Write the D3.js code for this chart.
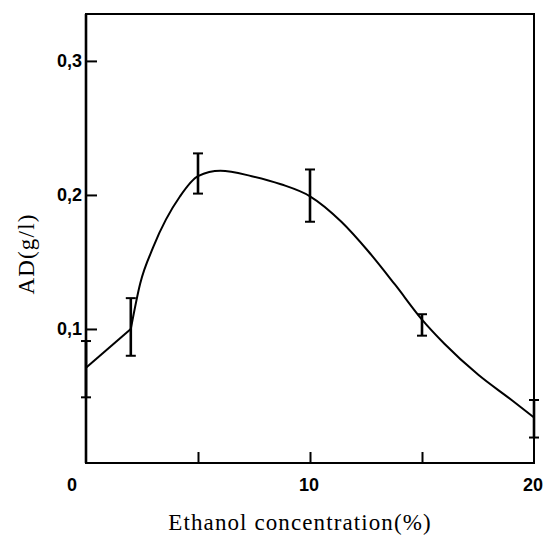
<!DOCTYPE html>
<html>
<head>
<meta charset="utf-8">
<script src="https://cdn.jsdelivr.net/npm/d3@7"></script>
<style>
  body { margin: 0; background: #fff; }
  svg { display: block; }
  .lbl { font-family: "Liberation Sans", Arial, sans-serif; font-weight: bold; font-size: 18px; }
  .ttl { font-family: "Liberation Serif", "Times New Roman", serif; font-size: 23px; }
</style>
</head>
<body>
<div id="chart"></div>
<script>
// measured points (ethanol %, AD g/l) with error bars
var conc = [0, 2, 5, 10, 15, 20];
var ad = [0.071, 0.1, 0.217, 0.2, 0.103, 0.033];
var errHigh = [0.091, 0.123, 0.231, 0.219, 0.111, 0.047];
var errLow = [0.049, 0.08, 0.201, 0.18, 0.095, 0.019];

// fitted curve
var fitX = [2, 2.42, 3, 4.2, 5, 6, 7.4, 8.7, 10, 11.4, 12.6, 13.8, 15, 16, 17.5, 19, 20];
var fitY = [0.1, 0.134, 0.161, 0.199, 0.214, 0.218, 0.214, 0.208, 0.199, 0.180, 0.158, 0.133, 0.107, 0.089, 0.066, 0.047, 0.034];

var xLabelTicks = [0, 10, 20];
var xInnerTicks = [5, 10, 15];
var yTicks = [0.1, 0.2, 0.3];
var yTickLabels = ["0,1", "0,2", "0,3"];

var width = 545, height = 537;
var margin = {top: 14, right: 11, bottom: 74, left: 86};

var svg = d3.select("#chart").append("svg")
    .attr("width", width)
    .attr("height", height);

var x = d3.scaleLinear().domain([0, 20]).range([margin.left, width - margin.right]);
var y = d3.scaleLinear().domain([0, 0.335]).range([height - margin.bottom, margin.top]);

// frame
svg.append("rect")
    .attr("x", x(0)).attr("y", y(0.335))
    .attr("width", x(20) - x(0)).attr("height", y(0) - y(0.335))
    .attr("fill", "none").attr("stroke", "#000").attr("stroke-width", 2);
svg.append("line")
    .attr("x1", x(0)).attr("x2", x(0)).attr("y1", y(0)).attr("y2", y(0.335))
    .attr("stroke", "#000").attr("stroke-width", 2.6);

// inner tick marks
var xAxisTicks = svg.append("g")
    .attr("transform", "translate(0," + y(0) + ")")
    .call(d3.axisTop(x).tickValues(xInnerTicks).tickSize(11).tickFormat(""));
xAxisTicks.select(".domain").remove();
xAxisTicks.selectAll("line").attr("stroke-width", 2);

var yAxisTicks = svg.append("g")
    .attr("transform", "translate(" + x(0) + ",0)")
    .call(d3.axisRight(y).tickValues(yTicks).tickSize(11).tickFormat(""));
yAxisTicks.select(".domain").remove();
yAxisTicks.selectAll("line").attr("stroke-width", 2);

// tick labels
svg.selectAll(".xl")
    .data(xLabelTicks)
    .enter().append("text")
    .attr("class", "lbl")
    .attr("x", function(d, i) {
        return x(d) + (i == 0 ? -14 : -1);
    })
    .attr("y", y(0) + 28)
    .attr("text-anchor", "middle")
    .text(function(d) {
        return d;
    });

svg.selectAll(".yl")
    .data(yTicks)
    .enter().append("text")
    .attr("class", "lbl")
    .attr("x", x(0) - 4)
    .attr("y", function(d) {
        return y(d) + 6;
    })
    .attr("text-anchor", "end")
    .text(function(d, i) {
        return yTickLabels[i];
    });

// axis titles
svg.append("text")
    .attr("class", "ttl")
    .attr("x", 300)
    .attr("y", 530)
    .attr("text-anchor", "middle")
    .attr("letter-spacing", "1.1px")
    .text("Ethanol concentration(%)");

svg.append("text")
    .attr("class", "ttl")
    .attr("transform", "translate(34,254) rotate(-90)")
    .attr("text-anchor", "middle")
    .attr("letter-spacing", "1.2px")
    .text("AD(g/l)");

// curve: straight segment to first fitted point, then smooth
var pts = conc.map(function(d, i) {
    return [d, ad[i]];
});
var fit = fitX.map(function(d, i) {
    return [d, fitY[i]];
});

svg.append("path")
    .datum([pts[0], pts[1]])
    .attr("fill", "none").attr("stroke", "#000").attr("stroke-width", 2)
    .attr("d", d3.line().x(function(d) { return x(d[0]); }).y(function(d) { return y(d[1]); }));

svg.append("path")
    .datum(fit)
    .attr("fill", "none").attr("stroke", "#000").attr("stroke-width", 2)
    .attr("d", d3.line().curve(d3.curveMonotoneX)
        .x(function(d) { return x(d[0]); })
        .y(function(d) { return y(d[1]); }));

// error bars
var eb = svg.selectAll(".eb")
    .data(conc)
    .enter().append("g");

eb.append("line")
    .attr("x1", function(d) { return x(d); })
    .attr("x2", function(d) { return x(d); })
    .attr("y1", function(d, i) { return y(errHigh[i]); })
    .attr("y2", function(d, i) { return y(errLow[i]); })
    .attr("stroke", "#000").attr("stroke-width", 2.6);

[errHigh, errLow].forEach(function(arr) {
    eb.append("line")
        .attr("x1", function(d) { return x(d) - 5; })
        .attr("x2", function(d) { return x(d) + 5; })
        .attr("y1", function(d, i) { return y(arr[i]); })
        .attr("y2", function(d, i) { return y(arr[i]); })
        .attr("stroke", "#000").attr("stroke-width", 2);
});
</script>
</body>
</html>
